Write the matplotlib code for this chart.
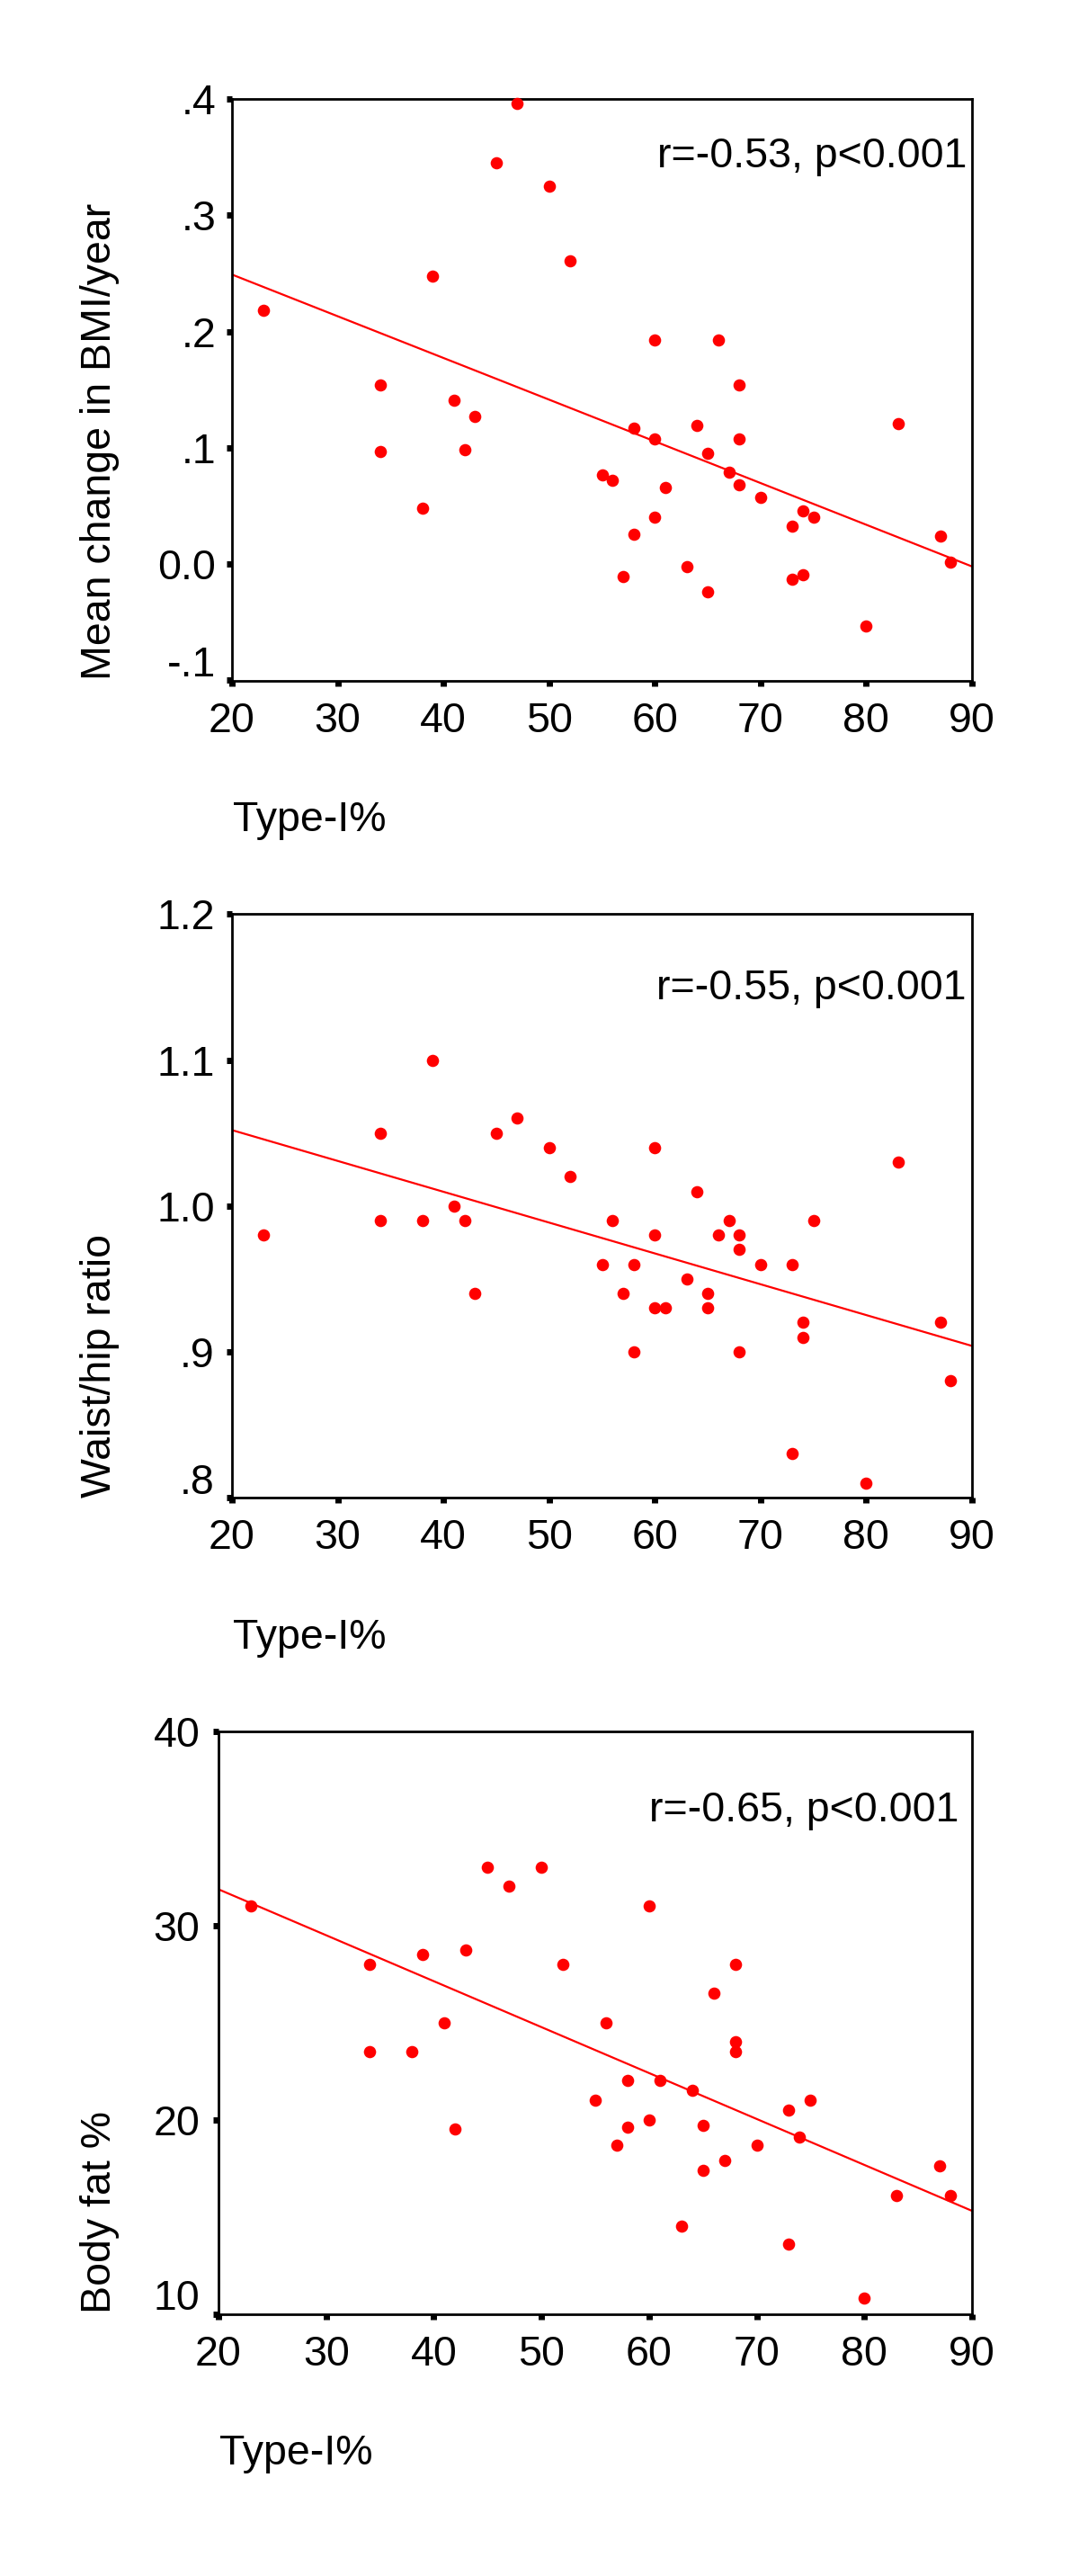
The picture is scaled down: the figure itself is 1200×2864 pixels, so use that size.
import matplotlib
matplotlib.use("Agg")
import matplotlib.pyplot as plt
from matplotlib.transforms import ScaledTranslation

plt.rcParams['font.family'] = ['Liberation Sans', 'DejaVu Sans']

# ---------------- data ----------------
# Panel 1: Type-I% vs mean change in BMI/year
p1_type1 = [23, 34, 34, 38, 39, 41, 42, 43, 45, 47, 50, 52, 55, 56, 57, 58, 58,
            60, 60, 60, 61, 63, 64, 65, 65, 66, 67, 68, 68, 68, 70, 73, 73, 74,
            74, 75, 80, 83, 87, 88]
p1_bmi = [0.218, 0.154, 0.097, 0.048, 0.248, 0.141, 0.098, 0.127, 0.345, 0.396,
          0.325, 0.261, 0.077, 0.072, -0.011, 0.117, 0.026, 0.193, 0.108, 0.040,
          0.066, -0.002, 0.119, 0.095, -0.024, 0.193, 0.079, 0.154, 0.108, 0.068,
          0.057, 0.033, -0.013, 0.046, -0.009, 0.040, -0.053, 0.121, 0.024, 0.002]
p1_fit_x = [20, 90]
p1_fit_y = [0.249, -0.002]
p1_ticks = [-0.1, 0.0, 0.1, 0.2, 0.3, 0.4]
p1_ticklabels = ['-.1', '0.0', '.1', '.2', '.3', '.4']
p1_ylabel = 'Mean change in BMI/year'
p1_stat = 'r=-0.53, p<0.001'

# Panel 2: Type-I% vs waist/hip ratio
p2_type1 = [23, 34, 34, 38, 39, 41, 42, 43, 45, 47, 50, 52, 55, 56, 57, 58, 58,
            60, 60, 60, 61, 63, 64, 65, 65, 66, 67, 68, 68, 68, 70, 73, 73, 74,
            74, 75, 80, 83, 87, 88]
p2_whr = [0.98, 1.05, 0.99, 0.99, 1.10, 1.00, 0.99, 0.94, 1.05, 1.06,
          1.04, 1.02, 0.96, 0.99, 0.94, 0.96, 0.90, 1.04, 0.98, 0.93,
          0.93, 0.95, 1.01, 0.94, 0.93, 0.98, 0.99, 0.98, 0.97, 0.90,
          0.96, 0.96, 0.83, 0.92, 0.91, 0.99, 0.81, 1.03, 0.92, 0.88]
p2_fit_x = [20, 90]
p2_fit_y = [1.052, 0.904]
p2_ticks = [0.8, 0.9, 1.0, 1.1, 1.2]
p2_ticklabels = ['.8', '.9', '1.0', '1.1', '1.2']
p2_ylabel = 'Waist/hip ratio'
p2_stat = 'r=-0.55, p<0.001'

# Panel 3: Type-I% vs body fat %
p3_type1 = [23, 34, 34, 38, 39, 41, 42, 43, 45, 47, 50, 52, 55, 56, 57, 58, 58,
            60, 60, 61, 63, 64, 65, 65, 66, 67, 68, 68, 68, 70, 73, 73, 74,
            75, 80, 83, 87, 88]
p3_fat = [31.0, 28.0, 23.5, 23.5, 28.5, 25.0, 19.5, 28.75, 33.0, 32.0,
          33.0, 28.0, 21.0, 25.0, 18.7, 22.0, 19.6, 31.0, 20.0, 22.0,
          14.5, 21.5, 19.7, 17.4, 26.5, 17.9, 28.0, 24.0, 23.5, 18.7,
          20.5, 13.6, 19.1, 21.0, 10.8, 16.1, 17.6, 16.1]
p3_fit_x = [20, 90]
p3_fit_y = [31.85, 15.3]
p3_ticks = [10, 20, 30, 40]
p3_ticklabels = ['10', '20', '30', '40']
p3_ylabel = 'Body fat %'
p3_stat = 'r=-0.65, p<0.001'

x_ticks = [20, 30, 40, 50, 60, 70, 80, 90]
x_ticklabels = ['20', '30', '40', '50', '60', '70', '80', '90']
x_label = 'Type-I%'

# ---------------- layout (pixels) ----------------
W, H, DPI = 1200, 2864, 100
RED = '#ff0000'
FS = 33.5

fig = plt.figure(figsize=(W / DPI, H / DPI), dpi=DPI)
fig.patch.set_facecolor('white')

panels = [
    dict(x=p1_type1, y=p1_bmi, fx=p1_fit_x, fy=p1_fit_y, ticks=p1_ticks,
         tl=p1_ticklabels, ylabel=p1_ylabel, stat=p1_stat,
         box=(258, 110, 1081, 756.5), ypad=8.4, stat_pos=(1075, 186.5)),
    dict(x=p2_type1, y=p2_whr, fx=p2_fit_x, fy=p2_fit_y, ticks=p2_ticks,
         tl=p2_ticklabels, ylabel=p2_ylabel, stat=p2_stat,
         box=(258, 1016.5, 1081, 1665), ypad=9.5, stat_pos=(1074, 1111)),
    dict(x=p3_type1, y=p3_fat, fx=p3_fit_x, fy=p3_fit_y, ticks=p3_ticks,
         tl=p3_ticklabels, ylabel=p3_ylabel, stat=p3_stat,
         box=(243, 1924.5, 1081, 2572.5), ypad=10.5, stat_pos=(1066, 2025)),
]

for p in panels:
    l, t, r, b = p['box']
    ax = fig.add_axes([l / W, 1 - b / H, (r - l) / W, (b - t) / H])
    ax.set_facecolor('white')
    ax.plot(p['fx'], p['fy'], color=RED, lw=1.6, zorder=2)
    ax.plot(p['x'], p['y'], 'o', color=RED, ms=9.8, mec='none', zorder=3,
            clip_on=False)
    ax.set_xlim(20, 90)
    ax.set_ylim(p['ticks'][0], p['ticks'][-1])
    ax.set_xticks(x_ticks)
    ax.set_xticklabels(x_ticklabels)
    ax.set_yticks(p['ticks'])
    ax.set_yticklabels(p['tl'])
    for s in ax.spines.values():
        s.set_linewidth(2.0)
        s.set_color('black')
    ax.tick_params(axis='both', direction='out', length=4.3, width=5,
                   color='black', labelsize=FS, labelcolor='black')
    ax.tick_params(axis='x', pad=12.5)
    ax.tick_params(axis='y', pad=p['ypad'])
    # the lowest y tick label sits a little above its tick
    lab0 = ax.get_yticklabels()[0]
    lab0.set_transform(lab0.get_transform() +
                       ScaledTranslation(0, 21 / DPI, fig.dpi_scale_trans))
    # statistic annotation
    sx, sy = p['stat_pos']
    fig.text(sx / W, 1 - sy / H, p['stat'], ha='right', va='baseline',
             fontsize=FS, color='black')
    # y label: starts at the bottom of the axis, reading upward
    fig.text(123 / W, 1 - b / H, p['ylabel'], rotation=90,
             rotation_mode='anchor', ha='left', va='baseline',
             fontsize=FS, color='black')
    # x label below, left aligned with the axis
    fig.text((l + 1.5) / W, 1 - (b + 168) / H, x_label, ha='left',
             va='baseline', fontsize=FS, color='black')

fig.savefig('out.png', dpi=DPI, facecolor='white')
